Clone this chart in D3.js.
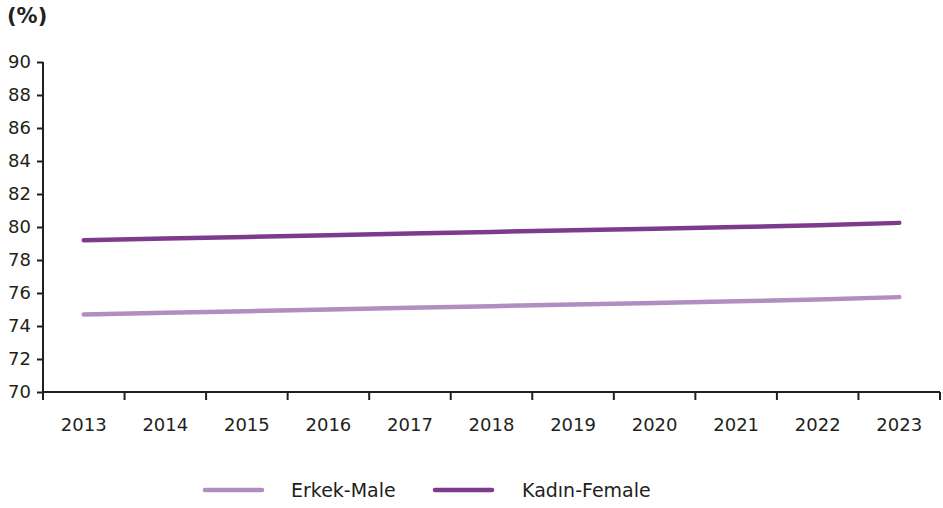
<!DOCTYPE html>
<html><head><meta charset="utf-8">
<script src="https://cdn.jsdelivr.net/npm/d3@7"></script>
<style>body{margin:0;background:#fff}svg{display:block}text{font-family:"DejaVu Sans",Verdana,sans-serif;fill:#231f20}</style>
</head><body><svg id="c" width="943" height="508"></svg>
<script>
const years = ["2013","2014","2015","2016","2017","2018","2019","2020","2021","2022","2023"];
const male = [74.7,74.8,74.9,75.0,75.1,75.2,75.3,75.4,75.5,75.6,75.75];
const female = [79.2,79.3,79.4,79.5,79.6,79.7,79.8,79.9,80.0,80.1,80.25];
const yTicks = [70,72,74,76,78,80,82,84,86,88,90];
const seriesNames = ["Erkek-Male","Kadın-Female"];
const colors = ["#b28ec0","#7e3b8c"];

const svg = d3.select("#c");
const L=43,R=940,T=62,B=392;
const x = d3.scaleBand().domain(years).range([L,R]);
const y = d3.scaleLinear().domain([70,90]).range([B,T]);

svg.append("text").attr("x",7).attr("y",23).attr("font-size",21).attr("font-weight","bold").text("(%)");

const ya = svg.append("g").attr("transform",`translate(${L},0)`)
  .call(d3.axisLeft(y).tickValues(yTicks).tickSize(6).tickPadding(6).tickFormat(d3.format("d")));
const xa = svg.append("g").attr("transform",`translate(0,${B})`)
  .call(d3.axisBottom(x).tickSize(0).tickPadding(26));
[ya,xa].forEach(g=>{g.select(".domain").attr("stroke","#231f20").attr("stroke-width",2);
  g.selectAll("line").attr("stroke","#231f20").attr("stroke-width",2);
  g.selectAll("text").attr("font-size",18).attr("fill","#231f20").attr("font-family",'"DejaVu Sans",Verdana,sans-serif');});
ya.select(".domain").attr("d",`M0,${T}H0V${B}`);
xa.select(".domain").attr("d",`M${L},0H${R}`);
xa.selectAll(".bt").data(years.map(d=>x(d)).concat([R])).enter().append("line")
  .attr("x1",d=>d).attr("x2",d=>d).attr("y1",0).attr("y2",8).attr("stroke","#231f20").attr("stroke-width",2);

const line = d3.line().x((d,i)=>x(years[i])+x.bandwidth()/2).y(d=>y(d));
[male,female].forEach((s,i)=>{
  svg.append("path").attr("d",line(s)).attr("fill","none").attr("stroke",colors[i])
    .attr("stroke-width",4.5).attr("stroke-linecap","round");
});

const leg = [{x:205,tx:291},{x:435,tx:522}];
seriesNames.forEach((n,i)=>{
  svg.append("line").attr("x1",leg[i].x).attr("x2",leg[i].x+57).attr("y1",490).attr("y2",490)
    .attr("stroke",colors[i]).attr("stroke-width",4.5).attr("stroke-linecap","round");
  svg.append("text").attr("x",leg[i].tx).attr("y",497).attr("font-size",19).text(n);
});
</script></body></html>
